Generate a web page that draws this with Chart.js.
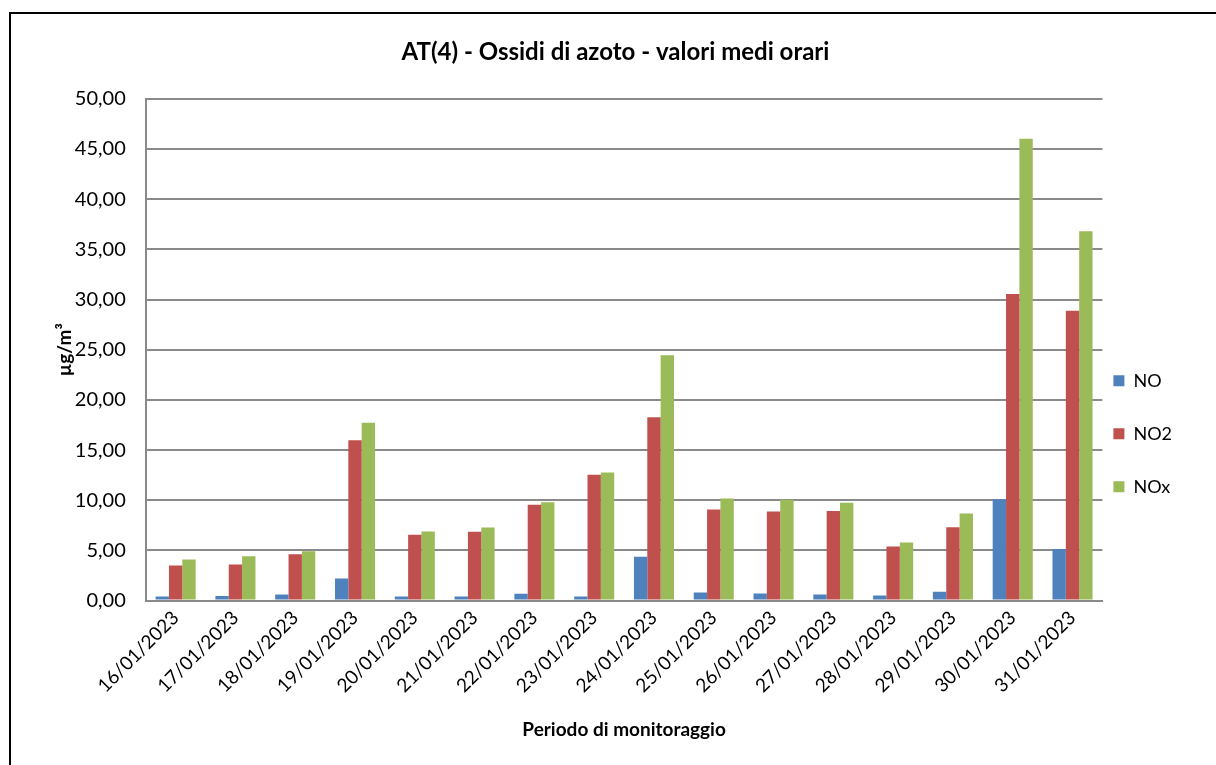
<!DOCTYPE html>
<html lang="it">
<head>
    <meta charset="UTF-8">
    <title>AT(4) - Ossidi di azoto - valori medi orari</title>
    <script src="https://cdn.jsdelivr.net/npm/chart.js"></script>
    <style>
        html, body {
            margin: 0;
            padding: 0;
            background: #fff;
            overflow: hidden;
        }
        .frame {
            position: absolute;
            left: 9px;
            top: 12px;
            width: 1300px;
            height: 900px;
            border: 2px solid #000;
        }
        #wrap {
            position: absolute;
            left: 0;
            top: 0;
            width: 1216px;
            height: 765px;
        }
    </style>
</head>
<body>
    <div class="frame"></div>
    <div id="wrap"><canvas id="chart" width="1216" height="765"></canvas></div>

    <script>
        // dati
        const days = ['16/01/2023', '17/01/2023', '18/01/2023', '19/01/2023', '20/01/2023', '21/01/2023',
            '22/01/2023', '23/01/2023', '24/01/2023', '25/01/2023', '26/01/2023', '27/01/2023',
            '28/01/2023', '29/01/2023', '30/01/2023', '31/01/2023'];
        const no  = [0.40, 0.47, 0.60, 2.20, 0.40, 0.40, 0.67, 0.40, 4.36, 0.80, 0.70, 0.60, 0.50, 0.88, 10.10, 5.15];
        const no2 = [3.49, 3.59, 4.62, 15.97, 6.55, 6.85, 9.55, 12.54, 18.26, 9.08, 8.88, 8.92, 5.39, 7.31, 30.54, 28.89];
        const nox = [4.09, 4.42, 4.92, 17.73, 6.89, 7.29, 9.81, 12.77, 24.45, 10.18, 10.05, 9.76, 5.79, 8.69, 46.03, 36.80];
        const yTicks = [0, 5, 10, 15, 20, 25, 30, 35, 40, 45, 50];

        const fontFam = 'Lato, "Open Sans", sans-serif';
        const gridCol = '#8a8a8a';

        // sposta legenda e titolo come nell'originale
        const nudge = {
            id: 'nudge',
            afterLayout(chart) {
                const l = chart.legend;
                if (l) { l.left -= 24; l.right -= 24; }
                const t = chart.titleBlock;
                if (t) { t.left -= 14; t.right -= 14; }
            }
        };

        new Chart(document.getElementById('chart'), {
            type: 'bar',
            data: {
                labels: days,
                datasets: [
                    { label: 'NO', data: no, backgroundColor: '#4F81BD' },
                    { label: 'NO2', data: no2, backgroundColor: '#C0504D' },
                    { label: 'NOx', data: nox, backgroundColor: '#9BBB59' }
                ]
            },
            plugins: [nudge],
            options: {
                responsive: false,
                animation: false,
                categoryPercentage: 0.67,
                barPercentage: 1.0,
                layout: {
                    padding: { left: 53, right: 10, top: 38, bottom: 24 }
                },
                scales: {
                    x: {
                        grid: { display: false, drawTicks: false },
                        border: { display: true, color: gridCol, width: 2 },
                        ticks: {
                            color: '#000',
                            font: { family: fontFam, size: 19 },
                            minRotation: 45,
                            maxRotation: 45,
                            padding: 6
                        },
                        title: {
                            display: true,
                            text: 'Periodo di monitoraggio',
                            color: '#000',
                            font: { family: fontFam, size: 19, weight: 'bold' },
                            padding: { top: 15, bottom: 0 }
                        }
                    },
                    y: {
                        min: 0,
                        max: 50,
                        afterBuildTicks: axis => { axis.ticks = yTicks.map(v => ({ value: v })); },
                        grid: { color: gridCol, lineWidth: 2, drawTicks: false },
                        border: { display: true, color: gridCol, width: 2 },
                        ticks: {
                            color: '#000',
                            font: { family: fontFam, size: 20 },
                            padding: 20,
                            callback: v => v.toFixed(2).replace('.', ',')
                        },
                        title: {
                            display: true,
                            text: 'µg/m³',
                            color: '#000',
                            font: { family: fontFam, size: 19, weight: 'bold' },
                            padding: { top: 0, bottom: -21 }
                        }
                    }
                },
                plugins: {
                    title: {
                        display: true,
                        text: 'AT(4) - Ossidi di azoto - valori medi orari',
                        color: '#000',
                        font: { family: fontFam, size: 24, weight: 'bold' },
                        padding: { top: 0, bottom: 32 }
                    },
                    legend: {
                        position: 'right',
                        title: {
                            display: true,
                            text: ' ',
                            padding: { top: 0, bottom: 74 }
                        },
                        labels: {
                            color: '#000',
                            boxWidth: 11,
                            boxHeight: 11,
                            padding: 35,
                            font: { family: fontFam, size: 18 }
                        }
                    },
                    tooltip: { enabled: false }
                }
            }
        });
    </script>
</body>
</html>
